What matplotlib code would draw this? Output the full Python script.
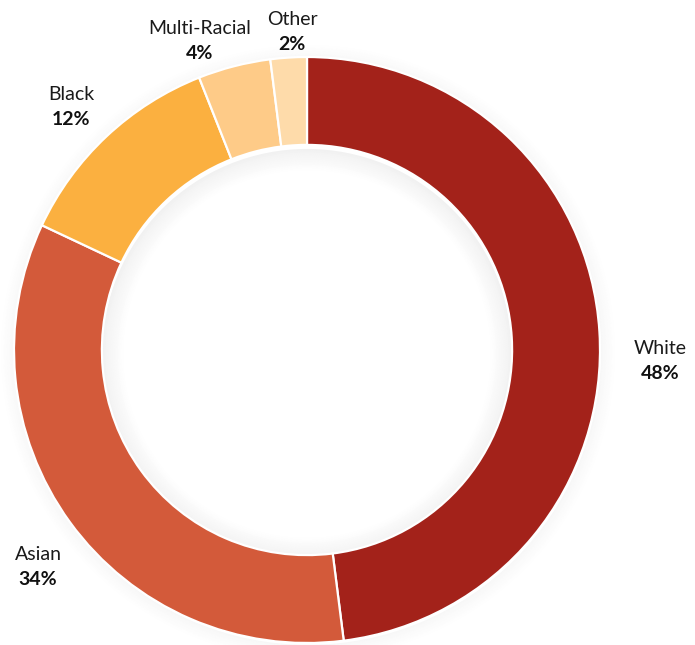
import matplotlib.pyplot as plt
from matplotlib.patches import Wedge

groups = ['White', 'Asian', 'Black', 'Multi-Racial', 'Other']
shares = [48, 34, 12, 4, 2]
colors = ['#A3221A', '#D35A3A', '#FBB040', '#FECB88', '#FEDBAA']

# label centre x and baseline of the name line (pixels, y from top)
label_xy = [(660, 354), (38, 560), (71, 100), (200, 34), (292, 25)]
line_gap = 25

W, H = 695, 645
cx, cy = 307, H - 350
r_out = 293
ring = 0.3

fig = plt.figure(figsize=(W / 100, H / 100), dpi=100)
ax = fig.add_axes([0, 0, 1, 1])

# soft shadow around the ring
for i in range(12):
    a = 0.03 * (1 - i / 12)
    ax.add_patch(Wedge((cx + 1, cy - 2), r_out + 1 + i * 1.2, 0, 360,
                       width=1.2, facecolor='black', alpha=a, lw=0))
    ax.add_patch(Wedge((cx, cy - 4), r_out * (1 - ring) - i * 1.8, 0, 360,
                       width=1.8, facecolor='black', alpha=a * 1.8, lw=0))

ax.pie(shares, colors=colors, startangle=90, counterclock=False,
       center=(cx, cy), radius=r_out, frame=True,
       wedgeprops=dict(width=r_out * ring, edgecolor='white', linewidth=1.6))
ax.set_xlim(0, W)
ax.set_ylim(0, H)
ax.set_aspect('equal')
ax.axis('off')

for name, val, (x, y) in zip(groups, shares, label_xy):
    ax.text(x, H - y, name, ha='center', va='baseline',
            fontsize=14, family='Lato', color='#1a1a1a')
    ax.text(x, H - y - line_gap, f'{val}%', ha='center', va='baseline',
            fontsize=14, family='Lato', fontweight='bold', color='#111111')

fig.savefig('out.png', dpi=100)
